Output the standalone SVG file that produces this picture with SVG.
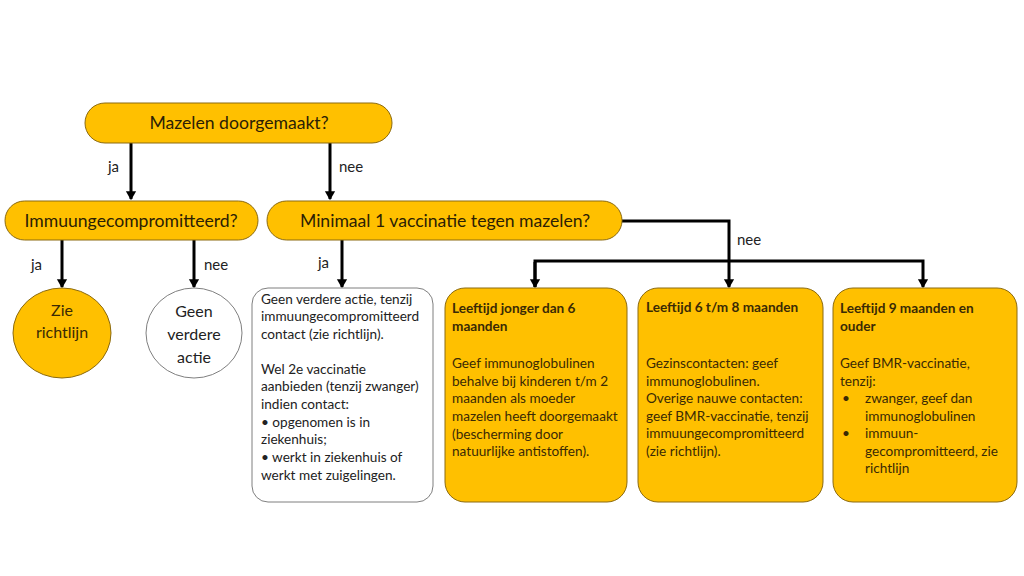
<svg xmlns="http://www.w3.org/2000/svg" width="1024" height="576" viewBox="0 0 1024 576">
<style>
.pill{fill:#FFC000;stroke:#8B6A10;stroke-width:1}
.wbox{fill:#FFFFFF;stroke:#7F7F7F;stroke-width:1}
.t{font-family:Lato,"Liberation Sans",sans-serif;fill:#3A2A05}
.h{font-size:17.6px;fill:#2B2005}
.b{font-size:13.6px}
.bold{font-weight:bold}
.lbl{font-family:Lato,"Liberation Sans",sans-serif;font-size:15px;fill:#222}
.con{fill:none;stroke:#000;stroke-width:3}
.wt{font-family:Lato,"Liberation Sans",sans-serif;fill:#222}
</style>
<defs>
<marker id="ah" markerWidth="4" markerHeight="4" refX="2.6" refY="2" orient="auto" markerUnits="strokeWidth">
<path d="M0,0.3 L3,2 L0,3.7 Z" fill="#000"/>
</marker>
</defs>
<g id="connectors">
<line class="con" x1="131" y1="143" x2="131" y2="199" marker-end="url(#ah)"/>
<line class="con" x1="330" y1="143" x2="330" y2="199" marker-end="url(#ah)"/>
<line class="con" x1="62" y1="240" x2="62" y2="287" marker-end="url(#ah)"/>
<line class="con" x1="194" y1="240" x2="194" y2="287" marker-end="url(#ah)"/>
<line class="con" x1="342" y1="240" x2="342" y2="287" marker-end="url(#ah)"/>
<polyline class="con" points="622,221 729,221 729,287" marker-end="url(#ah)"/>
<polyline class="con" points="535,287 535,261 923,261 923,287" marker-end="url(#ah)"/>
<line class="con" x1="535" y1="262" x2="535" y2="287" marker-end="url(#ah)"/>
<text class="lbl" x="108" y="172">ja</text>
<text class="lbl" x="339" y="172">nee</text>
<text class="lbl" x="31" y="270">ja</text>
<text class="lbl" x="204" y="270">nee</text>
<text class="lbl" x="318" y="268">ja</text>
<text class="lbl" x="737" y="245">nee</text>
</g>
<g id="n-mazelen">
<rect class="pill" x="85" y="103" width="307" height="40" rx="20"/>
<text class="t h" x="239" y="129" text-anchor="middle">Mazelen doorgemaakt?</text>
</g>
<g id="n-immuun">
<rect class="pill" x="5" y="201" width="253" height="39" rx="19.5"/>
<text class="t h" x="131" y="227" text-anchor="middle">Immuungecompromitteerd?</text>
</g>
<g id="n-minimaal">
<rect class="pill" x="267" y="201" width="355" height="39" rx="19.5"/>
<text class="t h" x="445" y="227" text-anchor="middle">Minimaal 1 vaccinatie tegen mazelen?</text>
</g>
<g id="n-zie">
<ellipse class="pill" cx="62" cy="333" rx="49" ry="45"/>
<text class="t" font-size="16" x="62" y="316" text-anchor="middle">Zie</text>
<text class="t" font-size="16" x="62" y="338" text-anchor="middle">richtlijn</text>
</g>
<g id="n-geen">
<ellipse class="wbox" cx="194" cy="333" rx="48" ry="45"/>
<text class="wt" font-size="16" x="194" y="317" text-anchor="middle">Geen</text>
<text class="wt" font-size="16" x="194" y="340" text-anchor="middle">verdere</text>
<text class="wt" font-size="16" x="194" y="363" text-anchor="middle">actie</text>
</g>
<g id="n-ja-box">
<rect class="wbox" x="252" y="288" width="181" height="214" rx="16"/>
<g class="wt b">
<text x="261" y="304">Geen verdere actie, tenzij</text>
<text x="261" y="321">immuungecompromitteerd</text>
<text x="261" y="339">contact (zie richtlijn).</text>
<text x="261" y="374">Wel 2e vaccinatie</text>
<text x="261" y="391">aanbieden (tenzij zwanger)</text>
<text x="261" y="409">indien contact:</text>
<text x="261" y="427">• opgenomen is in</text>
<text x="261" y="444">ziekenhuis;</text>
<text x="261" y="462">• werkt in ziekenhuis of</text>
<text x="261" y="480">werkt met zuigelingen.</text>
</g>
</g>
<g id="n-jonger6">
<rect class="pill" x="445" y="288" width="182" height="214" rx="20"/>
<g class="t b">
<text class="bold" x="452" y="313">Leeftijd jonger dan 6</text>
<text class="bold" x="452" y="331">maanden</text>
<text x="452" y="368">Geef immunoglobulinen</text>
<text x="452" y="386">behalve bij kinderen t/m 2</text>
<text x="452" y="403">maanden als moeder</text>
<text x="452" y="421">mazelen heeft doorgemaakt</text>
<text x="452" y="439">(bescherming door</text>
<text x="452" y="456">natuurlijke antistoffen).</text>
</g>
</g>
<g id="n-6tm8">
<rect class="pill" x="638" y="288" width="185" height="214" rx="20"/>
<g class="t b">
<text class="bold" x="646" y="312">Leeftijd 6 t/m 8 maanden</text>
<text x="646" y="368">Gezinscontacten: geef</text>
<text x="646" y="386">immunoglobulinen.</text>
<text x="646" y="403">Overige nauwe contacten:</text>
<text x="646" y="421">geef BMR-vaccinatie, tenzij</text>
<text x="646" y="438">immuungecompromitteerd</text>
<text x="646" y="456">(zie richtlijn).</text>
</g>
</g>
<g id="n-9plus">
<rect class="pill" x="833" y="288" width="184" height="214" rx="20"/>
<g class="t b">
<text class="bold" x="840" y="313">Leeftijd 9 maanden en</text>
<text class="bold" x="840" y="331">ouder</text>
<text x="840" y="368">Geef BMR-vaccinatie,</text>
<text x="840" y="386">tenzij:</text>
<text x="842" y="403">•</text>
<text x="865" y="403">zwanger, geef dan</text>
<text x="865" y="421">immunoglobulinen</text>
<text x="842" y="438">•</text>
<text x="865" y="438">immuun-</text>
<text x="865" y="456">gecompromitteerd, zie</text>
<text x="865" y="473">richtlijn</text>
</g>
</g>
</svg>
